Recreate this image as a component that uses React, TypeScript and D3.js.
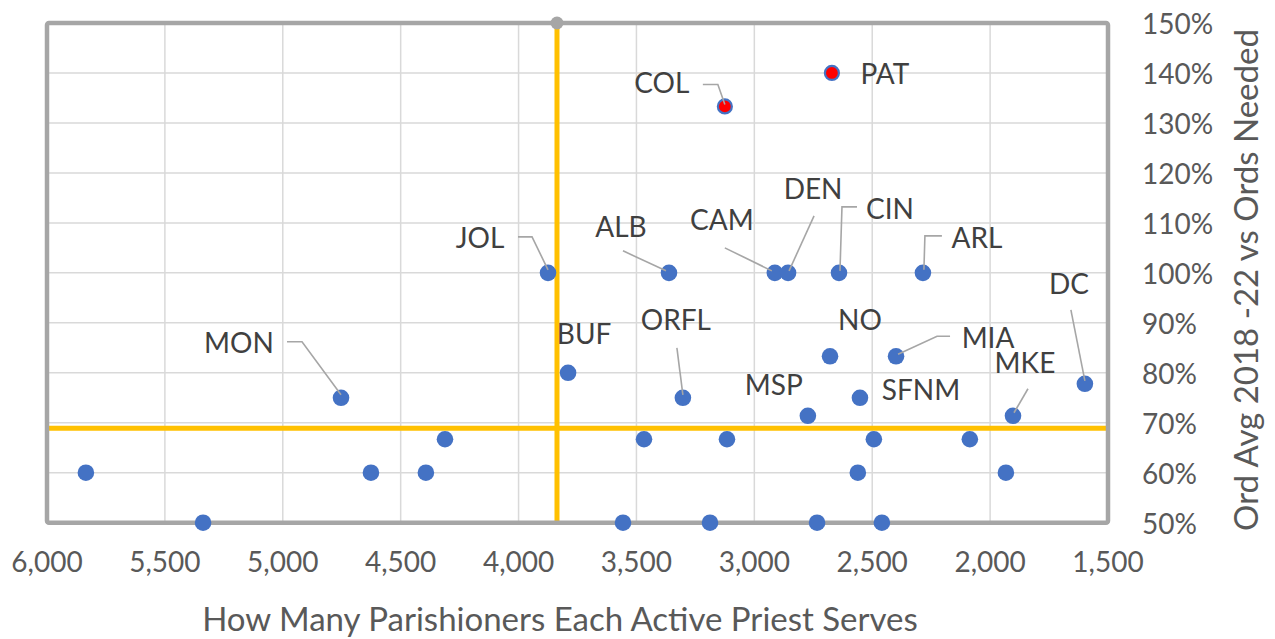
import React from "react";
import * as d3 from "d3";

// parishioners per active priest (x) and ordinations vs needed (y, %)
const dioceses = [
  "", "", "MON", "", "", "", "JOL", "BUF", "", "", "ALB", "ORFL", "", "COL", "", "CAM",
  "DEN", "MSP", "", "NO", "PAT", "CIN", "", "SFNM", "", "", "MIA", "ARL", "", "", "MKE", "DC",
];
const parishioners = [
  5835, 5338, 4753, 4626, 4393, 4312, 3875, 3790, 3557, 3468, 3362, 3303, 3188, 3125, 3116, 2913,
  2857, 2773, 2734, 2679, 2671, 2641, 2561, 2552, 2493, 2459, 2399, 2285, 2086, 1933, 1903, 1598,
];
const ordRatio = [
  60, 50, 75, 60, 60, 66.7, 100, 80, 50, 66.7, 100, 75, 50, 133.3, 66.7, 100,
  100, 71.4, 50, 83.3, 140, 100, 60, 75, 66.7, 50, 83.3, 100, 66.7, 60, 71.4, 77.8,
];
const highlighted = ["COL", "PAT"];

const xTicks = [6000, 5500, 5000, 4500, 4000, 3500, 3000, 2500, 2000, 1500];
const yTicks = [50, 60, 70, 80, 90, 100, 110, 120, 130, 140, 150];

const avgParishioners = 3837;
const avgRatio = 68.9;

const xTitle = "How Many Parishioners Each Active Priest Serves";
const yTitle = "Ord Avg 2018 -22 vs Ords Needed";

// label placement relative to its point: text centre offset and leader path
const labelLayout: Record<string, { dx: number; dy: number; leader?: [number, number][] }> = {
  COL: { dx: -63, dy: -24, leader: [[-22, -22], [-7, -22], [0, -2]] },
  PAT: { dx: 53, dy: 0 },
  JOL: { dx: -68, dy: -36, leader: [[-30, -36], [-16, -36], [0, -3]] },
  ALB: { dx: -48, dy: -47, leader: [[-46, -22], [-3, -2]] },
  CAM: { dx: -53, dy: -54, leader: [[-50, -25], [-3, -2]] },
  DEN: { dx: 25, dy: -85, leader: [[26, -57], [1, -2]] },
  CIN: { dx: 51, dy: -65, leader: [[18, -66], [3, -66], [1, -2]] },
  ARL: { dx: 54, dy: -36, leader: [[19, -37], [2, -37], [1, -3]] },
  MIA: { dx: 92, dy: -19, leader: [[54, -20], [41, -20], [2, -2]] },
  MKE: { dx: 12, dy: -54, leader: [[15, -27], [1, -3]] },
  DC: { dx: -16, dy: -101, leader: [[-14, -74], [0, -3]] },
  SFNM: { dx: 61, dy: -9 },
  MSP: { dx: -34, dy: -32 },
  NO: { dx: 30, dy: -37 },
  ORFL: { dx: -7, dy: -79, leader: [[-6, -50], [0, -3]] },
  BUF: { dx: 16, dy: -40 },
  MON: { dx: -102, dy: -56, leader: [[-54, -56], [-39, -56], [0, -3]] },
};

const W = 1275;
const H = 639;
const plot = { left: 47, top: 23, right: 1108, bottom: 522.7 };
const font = "Lato, 'Open Sans', sans-serif";

export default function App() {
  const x = d3.scaleLinear().domain([6000, 1500]).range([plot.left, plot.right]);
  const y = d3.scaleLinear().domain([50, 150]).range([plot.bottom, plot.top]);
  const line = d3.line();

  const points = parishioners.map((p, i) => ({
    name: dioceses[i],
    cx: x(p),
    cy: y(ordRatio[i]),
  }));

  return (
    <svg width={W} height={H} style={{ position: "absolute", left: 0, top: 0, background: "#fff" }}>
      {/* gridlines */}
      {xTicks.map((t) => (
        <line key={"gx" + t} x1={x(t)} x2={x(t)} y1={plot.top} y2={plot.bottom} stroke="#d9d9d9" strokeWidth={1.5} />
      ))}
      {yTicks.map((t) => (
        <line key={"gy" + t} x1={plot.left} x2={plot.right} y1={y(t)} y2={y(t)} stroke="#d9d9d9" strokeWidth={1.5} />
      ))}

      {/* average reference lines */}
      <line x1={plot.left} x2={plot.right} y1={y(avgRatio)} y2={y(avgRatio)} stroke="#ffc000" strokeWidth={5} />
      <line x1={x(avgParishioners)} x2={x(avgParishioners)} y1={plot.top} y2={plot.bottom} stroke="#ffc000" strokeWidth={5} />

      {/* plot border */}
      <rect
        x={plot.left}
        y={plot.top}
        width={plot.right - plot.left}
        height={plot.bottom - plot.top}
        fill="none"
        stroke="#a6a6a6"
        strokeWidth={4.5}
        rx={2}
      />
      <circle cx={x(avgParishioners)} cy={y(150)} r={6.5} fill="#a6a6a6" />

      {/* points */}
      {points.map((d, i) => {
        const hot = highlighted.includes(d.name);
        return (
          <circle
            key={"p" + i}
            cx={d.cx}
            cy={d.cy}
            r={hot ? 7 : 8.3}
            fill={hot ? "#ff0000" : "#4472c4"}
            stroke={hot ? "#4472c4" : "none"}
            strokeWidth={hot ? 2.2 : 0}
          />
        );
      })}

      {/* data labels */}
      {points.map((d, i) => {
        const lay = labelLayout[d.name];
        if (!d.name || !lay) return null;
        return (
          <g key={"l" + i}>
            {lay.leader && (
              <path
                d={line(lay.leader.map(([a, b]) => [d.cx + a, d.cy + b])) || ""}
                fill="none"
                stroke="#a6a6a6"
                strokeWidth={1.6}
              />
            )}
            <text
              x={d.cx + lay.dx}
              y={d.cy + lay.dy}
              textAnchor="middle"
              dominantBaseline="central"
              fontFamily={font}
              fontSize={28}
              fill="#404040"
            >
              {d.name}
            </text>
          </g>
        );
      })}

      {/* x axis labels */}
      {xTicks.map((t) => (
        <text
          key={"xt" + t}
          x={x(t)}
          y={561}
          textAnchor="middle"
          dominantBaseline="central"
          fontFamily={font}
          fontSize={28}
          fill="#595959"
        >
          {d3.format(",")(t)}
        </text>
      ))}

      {/* y axis labels */}
      {yTicks.map((t) => (
        <text
          key={"yt" + t}
          x={1142}
          y={y(t)}
          textAnchor="start"
          dominantBaseline="central"
          fontFamily={font}
          fontSize={28}
          fill="#595959"
        >
          {t}%
        </text>
      ))}

      <text
        x={560}
        y={618}
        textAnchor="middle"
        dominantBaseline="central"
        fontFamily={font}
        fontSize={33}
        fill="#595959"
      >
        {xTitle}
      </text>
      <text
        transform={`translate(1245, 280) rotate(-90)`}
        textAnchor="middle"
        dominantBaseline="central"
        fontFamily={font}
        fontSize={33}
        fill="#595959"
      >
        {yTitle}
      </text>
    </svg>
  );
}
